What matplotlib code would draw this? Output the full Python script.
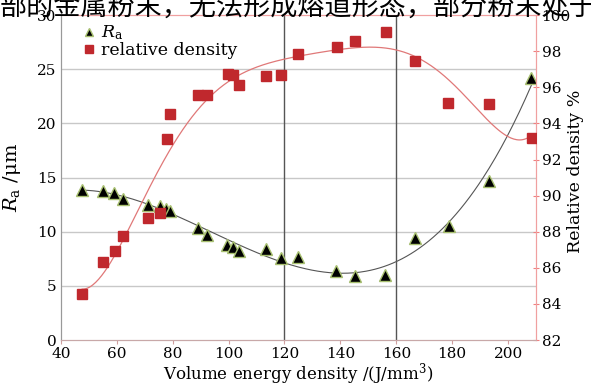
import matplotlib
matplotlib.use('Agg')
import matplotlib.pyplot as plt
import numpy as np

# Ra data (left axis)
ra_x = [47.4, 55.1, 59.0, 62.3, 71.0, 75.4, 77.7, 79.2, 89.0, 92.3, 99.4, 101.5, 103.8,
        113.3, 118.8, 124.8, 138.5, 145.2, 156.1, 166.6, 178.7, 193.0, 208.3]
ra_y = [13.85, 13.75, 13.6, 13.05, 12.5, 12.4, 12.1, 11.9, 10.3, 9.7, 8.8, 8.6, 8.25,
        8.45, 7.55, 7.7, 6.35, 5.9, 6.05, 9.45, 10.5, 14.7, 24.15]

# relative density data (right axis)
rd_x = [47.6, 55.1, 59.3, 62.3, 71.2, 75.5, 77.8, 79.2, 89.0, 92.4, 99.7, 101.6, 103.9,
        113.5, 118.9, 124.9, 138.7, 145.4, 156.2, 166.8, 178.6, 193.0, 208.5]
rd_y = [84.55, 86.3, 86.93, 87.78, 88.74, 89.05, 93.15, 94.53, 95.55, 95.55, 96.75, 96.68, 96.14,
        96.64, 96.67, 97.87, 98.24, 98.54, 99.07, 97.46, 95.12, 95.07, 93.17]

x_ticks = [40, 60, 80, 100, 120, 140, 160, 180, 200]
ra_ticks = [0, 5, 10, 15, 20, 25, 30]
rd_ticks = [82, 84, 86, 88, 90, 92, 94, 96, 98, 100]

plt.rcParams['font.family'] = ['DejaVu Serif']
plt.rcParams['mathtext.fontset'] = 'dejavuserif'

fig = plt.figure(figsize=(5.91, 3.86), dpi=100)
ax = fig.add_axes([0.103, 0.119, 0.804, 0.842])
ax2 = ax.twinx()

# smooth fitted curves from the measured points
xs = np.linspace(min(ra_x), max(ra_x), 300)
ra_fit = np.polyval(np.polyfit(ra_x, ra_y, 3), xs)
xd = np.linspace(min(rd_x), max(rd_x), 300)
rd_fit = np.polyval(np.polyfit(rd_x, rd_y, 6), xd)

for v in [5, 10, 15, 20, 25]:
    ax.axhline(v, color='#c8c8c8', lw=1.0, zorder=0)
for v in [120, 160]:
    ax.axvline(v, color='#555555', lw=1.0, zorder=0)

ax.plot(xs, ra_fit, color='#555555', lw=0.8, zorder=2)
ax.plot(ra_x, ra_y, linestyle='none', marker='^', markersize=8,
        markerfacecolor='black', markeredgecolor='#a8c070', markeredgewidth=1.0, zorder=3)

ax2.plot(xd, rd_fit, color='#e07878', lw=0.9, zorder=2)
ax2.plot(rd_x, rd_y, linestyle='none', marker='s', markersize=7,
         markerfacecolor='#c0282d', markeredgecolor='#c0282d', zorder=3)

ax.set_xlim(40, 210)
ax.set_ylim(0, 30)
ax2.set_ylim(82, 100)
ax.set_xticks(x_ticks)
ax.set_yticks(ra_ticks)
ax2.set_yticks(rd_ticks)

ax.tick_params(axis='y', length=0, labelsize=11, pad=3)
ax.tick_params(axis='x', length=3, labelsize=11, color='#d0a0a0', pad=2)
ax2.tick_params(axis='y', length=4, labelsize=11, color='#f08080', direction='inout', pad=2)

for a in (ax, ax2):
    a.spines['top'].set_color('#f0a0a0')
    a.spines['right'].set_color('#f0a0a0')
    a.spines['left'].set_color('#999999')
    a.spines['bottom'].set_color('#c8a8a8')

ax.set_xlabel('Volume energy density /(J/mm$^3$)', fontsize=12)
ax.xaxis.set_label_coords(0.5, -0.065)
ax.set_ylabel('$R_\\mathrm{a}$ /μm', fontsize=14)
ax.yaxis.set_label_coords(-0.08, 0.5)
ax2.set_ylabel('Relative density %', fontsize=12.5)
ax2.yaxis.set_label_coords(1.065, 0.52)

h1 = ax.plot([], [], linestyle='none', marker='^', markersize=6, markerfacecolor='black',
             markeredgecolor='#a8c070')[0]
h2 = ax.plot([], [], linestyle='none', marker='s', markersize=6, markerfacecolor='#c0282d',
             markeredgecolor='#c0282d')[0]
ax2.legend([h1, h2], ['$R_\\mathrm{a}$', 'relative density'], loc='upper left',
           bbox_to_anchor=(0.03, 0.995), frameon=False, fontsize=12.5, handlelength=0.8,
           handletextpad=0.3, labelspacing=0.0, borderaxespad=0)

# partial line of body text cut off at the top of the crop
fig.text(0.0, 1 - 15 / 386, '部的金属粉末，无法形成熔道形态，部分粉末处于熔',
         fontsize=19.5, family=['Noto Sans CJK SC'], va='baseline', ha='left')

fig.savefig('out.png', dpi=100)
